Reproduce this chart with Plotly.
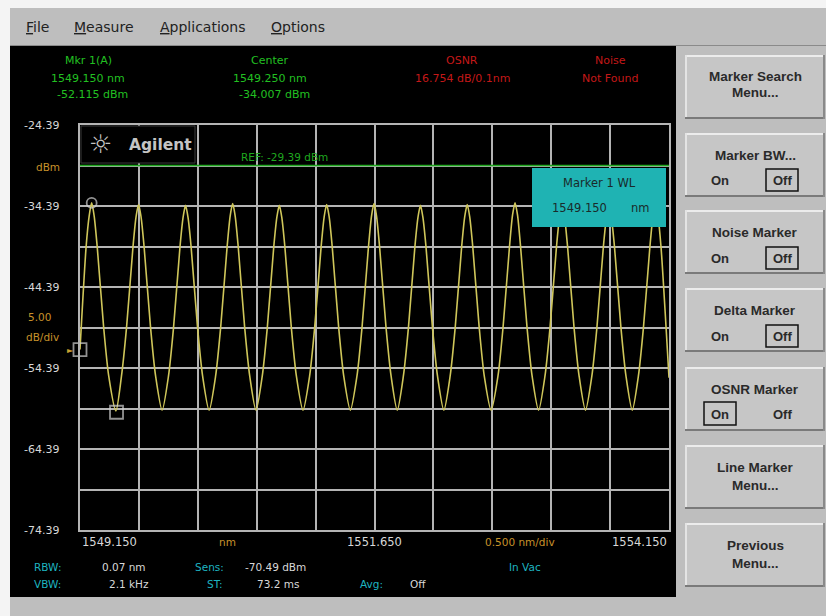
import plotly.graph_objects as go

x_range = [1549.150, 1554.150]          # nm, 0.500 nm/div
y_range = [-74.39, -24.39]              # dBm, 5.00 dB/div

wavelength_nm = [
    1549.150, 1549.202, 1549.228, 1549.249, 1549.270, 1549.296, 1549.351, 1549.394,
    1549.455,
    1549.502, 1549.545, 1549.600, 1549.626, 1549.647, 1549.668, 1549.694, 1549.749, 1549.792,
    1549.847,
    1549.901, 1549.944, 1549.999, 1550.025, 1550.046, 1550.067, 1550.093, 1550.148, 1550.191,
    1550.246,
    1550.301, 1550.344, 1550.399, 1550.425, 1550.446, 1550.467, 1550.493, 1550.548, 1550.591,
    1550.644,
    1550.697, 1550.740, 1550.795, 1550.821, 1550.842, 1550.863, 1550.889, 1550.944, 1550.987,
    1551.043,
    1551.099, 1551.142, 1551.197, 1551.223, 1551.244, 1551.265, 1551.291, 1551.346, 1551.389,
    1551.445,
    1551.501, 1551.544, 1551.599, 1551.625, 1551.646, 1551.667, 1551.693, 1551.748, 1551.791,
    1551.843,
    1551.895, 1551.938, 1551.993, 1552.019, 1552.040, 1552.061, 1552.087, 1552.142, 1552.185,
    1552.239,
    1552.292, 1552.335, 1552.390, 1552.416, 1552.437, 1552.458, 1552.484, 1552.539, 1552.582,
    1552.640,
    1552.698, 1552.741, 1552.796, 1552.822, 1552.843, 1552.864, 1552.890, 1552.945, 1552.988,
    1553.043,
    1553.097, 1553.140, 1553.195, 1553.221, 1553.242, 1553.263, 1553.289, 1553.344, 1553.387,
    1553.441,
    1553.495, 1553.538, 1553.593, 1553.619, 1553.640, 1553.661, 1553.687, 1553.742, 1553.785,
    1553.838,
    1553.890, 1553.933, 1553.988, 1554.014, 1554.035, 1554.056, 1554.082, 1554.150,
]
power_dbm = [
    -52.1, -39.4, -35.6, -34.0, -35.6, -39.4, -49.4, -55.4,
    -59.7,
    -55.4, -49.4, -39.4, -35.7, -34.2, -35.7, -39.4, -49.4, -55.4,
    -59.6,
    -55.4, -49.4, -39.4, -35.8, -34.3, -35.8, -39.4, -49.4, -55.4,
    -59.6,
    -55.4, -49.4, -39.4, -35.6, -34.1, -35.6, -39.4, -49.4, -55.4,
    -59.6,
    -55.4, -49.4, -39.4, -35.8, -34.3, -35.8, -39.4, -49.4, -55.4,
    -59.6,
    -55.4, -49.4, -39.4, -35.7, -34.2, -35.7, -39.4, -49.4, -55.4,
    -59.6,
    -55.4, -49.4, -39.4, -35.6, -34.1, -35.6, -39.4, -49.4, -55.4,
    -59.6,
    -55.4, -49.4, -39.4, -35.8, -34.3, -35.8, -39.4, -49.4, -55.4,
    -59.6,
    -55.4, -49.4, -39.4, -35.7, -34.2, -35.7, -39.4, -49.4, -55.4,
    -59.6,
    -55.4, -49.4, -39.4, -35.5, -34.0, -35.5, -39.4, -49.4, -55.4,
    -59.6,
    -55.4, -49.4, -39.4, -35.7, -34.2, -35.7, -39.4, -49.4, -55.4,
    -59.6,
    -55.4, -49.4, -39.4, -35.8, -34.3, -35.8, -39.4, -49.4, -55.4,
    -59.6,
    -55.4, -49.4, -39.4, -35.6, -34.1, -35.6, -39.4, -55.6,
]

marker_wl = [1549.150, 1549.249, 1549.460]
marker_dbm = [-52.115, -34.007, -59.85]
marker_symbols = ["square-open", "circle-open", "square-open"]
marker_sizes = [13, 10, 13]

ref_level = -29.39
y_tick_values = [-24.39, -34.39, -44.39, -54.39, -64.39, -74.39]
y_tick_labels = ["-24.39", "-34.39", "-44.39", "-54.39", "-64.39", "-74.39"]
x_tick_values = [1549.150, 1551.650, 1554.150]
x_tick_labels = ["1549.150", "1551.650", "1554.150"]

header_titles = ["Mkr 1(A)", "Center", "OSNR", "Noise"]
header_line1 = ["1549.150 nm", "1549.250 nm", "16.754 dB/0.1nm", "Not Found"]
header_line2 = ["-52.115 dBm", "-34.007 dBm", "", ""]

menu_items = ["<u>F</u>ile", "<u>M</u>easure", "<u>A</u>pplications", "<u>O</u>ptions"]

# ---------------- layout helpers (pixel -> paper / data) ----------------
W, H = 826, 616
PL, PR, PT, PB = 80, 669, 125, 530


def px(x):
    return (x - PL) / (PR - PL)


def py(y):
    return (PB - y) / (PB - PT)


def dx(x):
    return x_range[0] + (x - PL) / (PR - PL) * (x_range[1] - x_range[0])


def dy(y):
    return y_range[1] - (y - PT) / (PB - PT) * (y_range[1] - y_range[0])


FONT = "DejaVu Sans"
GRID = "#b4b4b4"
GREEN = "#22c022"
RED = "#c41818"
CYAN = "#1eb4c0"
ORANGE = "#c8922a"
LABEL = "#d8d8d8"
BTN_TXT = "#2a2a2a"

annotations = []


def txt(x, y, text, color, size=11, anchor="center", family=FONT):
    annotations.append(dict(
        x=px(x), y=py(y), xref="paper", yref="paper", text=text, showarrow=False,
        xanchor=anchor, yanchor="middle",
        font=dict(family=family, size=size, color=color)))


shapes = []


def rect(x0, y0, x1, y1, fill, line=None, lw=0, layer="below"):
    shapes.append(dict(type="rect", xref="paper", yref="paper",
                       x0=px(x0), x1=px(x1), y0=py(y0), y1=py(y1),
                       fillcolor=fill, layer=layer,
                       line=dict(color=line if line else "rgba(0,0,0,0)", width=lw)))


def hline(x0, x1, y, color, w, layer="below"):
    shapes.append(dict(type="line", xref="paper", yref="paper",
                       x0=px(x0), x1=px(x1), y0=py(y), y1=py(y), layer=layer,
                       line=dict(color=color, width=w)))


def vline(x, y0, y1, color, w, layer="below"):
    shapes.append(dict(type="line", xref="paper", yref="paper",
                       x0=px(x), x1=px(x), y0=py(y0), y1=py(y1), layer=layer,
                       line=dict(color=color, width=w)))


# ---------------- frame ----------------
rect(0, 0, W, 8, "#f4f4f4")
rect(0, 0, 10, H, "#f4f4f4")
hline(10, W, 45.5, "#8a8a8a", 1)
rect(10, 46, 676, 597, "black")

# menu bar
menu_x = [38, 104, 203, 298]
for mx, m in zip(menu_x, menu_items):
    txt(mx, 27, m, "#222222", size=14)

# header readouts
hx = [88, 270, 462, 610]
hcol = [GREEN, GREEN, RED, RED]
for i in range(4):
    txt(hx[i], 61, header_titles[i], hcol[i], size=11)
    txt(hx[i], 78, header_line1[i], hcol[i], size=11)
    if header_line2[i]:
        txt(hx[i] + 4, 95, header_line2[i], hcol[i], size=11)

# y labels
for v, t in zip(y_tick_values, y_tick_labels):
    annotations.append(dict(x=px(61), y=v, xref="paper", yref="y", text=t,
                            showarrow=False, xanchor="right", yanchor="middle",
                            font=dict(family=FONT, size=11, color=LABEL)))
txt(62, 167, "dBm", ORANGE, size=10.5, anchor="right")
txt(39, 317, "5.00", ORANGE, size=10.5)
txt(42, 337, "dB/div", ORANGE, size=10.5)
txt(70, 350, "►", "#c8a030", size=8)

# x labels
anchors = ["left", "center", "right"]
for v, t, a in zip(x_tick_values, x_tick_labels, anchors):
    annotations.append(dict(x=v, y=py(542), xref="x", yref="paper", text=t,
                            showarrow=False, xanchor=a, yanchor="middle",
                            font=dict(family=FONT, size=11.5, color=LABEL)))
txt(227, 542, "nm", ORANGE, size=10.5)
txt(520, 542, "0.500 nm/div", ORANGE, size=10.5)

# bottom status
txt(32, 567, "RBW:", CYAN, size=10.5, anchor="left")
txt(100, 567, "0.07 nm", LABEL, size=10.5, anchor="left")
txt(193, 567, "Sens:", CYAN, size=10.5, anchor="left")
txt(243, 567, "-70.49 dBm", LABEL, size=10.5, anchor="left")
txt(507, 567, "In Vac", CYAN, size=10.5, anchor="left")
txt(32, 584, "VBW:", CYAN, size=10.5, anchor="left")
txt(107, 584, "2.1 kHz", LABEL, size=10.5, anchor="left")
txt(205, 584, "ST:", CYAN, size=10.5, anchor="left")
txt(255, 584, "73.2 ms", LABEL, size=10.5, anchor="left")
txt(358, 584, "Avg:", CYAN, size=10.5, anchor="left")
txt(408, 584, "Off", LABEL, size=10.5, anchor="left")

# logo box (between grid and trace) + ref line
shapes.append(dict(type="rect", xref="x", yref="y",
                   x0=dx(81), x1=dx(195), y0=dy(126), y1=dy(163),
                   fillcolor="black", layer="between",
                   line=dict(color="#3a3a3a", width=1)))
shapes.append(dict(type="line", xref="x", yref="y", x0=x_range[0], x1=x_range[1],
                   y0=ref_level, y1=ref_level, layer="between",
                   line=dict(color="#1fa81f", width=1.5)))
txt(100, 144, "☼", "#c4c4c4", size=26)
txt(160, 145, "<b>Agilent</b>", "#c4c4c4", size=15.5)
txt(284, 157, "REF: -29.39 dBm", "#1fa81f", size=10.5)

# marker readout box
rect(532, 168, 666, 227, "#1fb3b3", layer="above")
txt(599, 183, "Marker 1 WL", "#1a2a2a", size=11.5)
txt(579, 208, "1549.150", "#1a2a2a", size=11.5)
txt(640, 208, "nm", "#1a2a2a", size=11.5)

# right-hand softkeys
btn_tops = [55, 133, 210, 288, 367, 445, 523]
btn_h = 64
for t in btn_tops:
    rect(685, t, 825, t + btn_h, "#c6c6c6")
    hline(685, 825, t + 1, "#ececec", 2)
    vline(686, t, t + btn_h, "#e4e4e4", 2)
    hline(685, 825, t + btn_h - 1, "#7a7a7a", 2)
    vline(824, t, t + btn_h, "#8a8a8a", 2)

BF = "Liberation Sans"
txt(755, 76, "<b>Marker Search</b>", BTN_TXT, size=13.5, family=BF)
txt(755, 93, "<b>Menu...</b>", BTN_TXT, size=13.5, family=BF)
txt(755, 155, "<b>Marker BW...</b>", BTN_TXT, size=13.5, family=BF)
txt(755, 232, "<b>Noise Marker</b>", BTN_TXT, size=13.5, family=BF)
txt(755, 310, "<b>Delta Marker</b>", BTN_TXT, size=13.5, family=BF)
txt(755, 389, "<b>OSNR Marker</b>", BTN_TXT, size=13.5, family=BF)
txt(755, 467, "<b>Line Marker</b>", BTN_TXT, size=13.5, family=BF)
txt(755, 485, "<b>Menu...</b>", BTN_TXT, size=13.5, family=BF)
txt(755, 545, "<b>Previous</b>", BTN_TXT, size=13.5, family=BF)
txt(755, 563, "<b>Menu...</b>", BTN_TXT, size=13.5, family=BF)
for yy in [180, 258, 336]:
    txt(720, yy, "<b>On</b>", BTN_TXT, size=13, family=BF)
    txt(782, yy, "<b>Off</b>", BTN_TXT, size=13, family=BF)
    rect(766, yy - 11, 798, yy + 11, "rgba(0,0,0,0)", line="#111111", lw=1.5, layer="above")
txt(720, 414, "<b>On</b>", BTN_TXT, size=13, family=BF)
txt(782, 414, "<b>Off</b>", BTN_TXT, size=13, family=BF)
rect(704, 402, 736, 425, "rgba(0,0,0,0)", line="#111111", lw=1.5, layer="above")

# ---------------- figure ----------------
fig = go.Figure()
fig.add_trace(go.Scatter(
    x=wavelength_nm, y=power_dbm, mode="lines",
    line=dict(color="#cfc65a", width=1.6, shape="spline", smoothing=0.7),
    hoverinfo="skip"))
fig.add_trace(go.Scatter(
    x=marker_wl, y=marker_dbm, mode="markers", cliponaxis=False,
    marker=dict(symbol=marker_symbols, size=marker_sizes, color="#d0d0d0",
                line=dict(color="#d0d0d0", width=1.8)),
    hoverinfo="skip"))

axis_common = dict(showgrid=True, gridcolor=GRID, gridwidth=1.5, zeroline=False,
                   showticklabels=False, ticks="", showline=True, linecolor=GRID,
                   linewidth=1.5, mirror=True, fixedrange=True)
fig.update_layout(
    width=W, height=H, autosize=False,
    margin=dict(l=PL, r=W - PR, t=PT, b=H - PB, pad=0),
    paper_bgcolor="#bebebe", plot_bgcolor="black", showlegend=False,
    xaxis=dict(range=x_range, tick0=x_range[0], dtick=0.5, **axis_common),
    yaxis=dict(range=y_range, tick0=y_range[0], dtick=5, **axis_common),
    shapes=shapes, annotations=annotations,
)
fig.write_html("out.html", config={"displayModeBar": False})

# remove the browser's default page margin so the figure sits at (0, 0)
with open("out.html", "r", encoding="utf-8") as f:
    html = f.read()
html = html.replace("<body>", '<body style="margin:0;overflow:hidden">', 1)
with open("out.html", "w", encoding="utf-8") as f:
    f.write(html)
